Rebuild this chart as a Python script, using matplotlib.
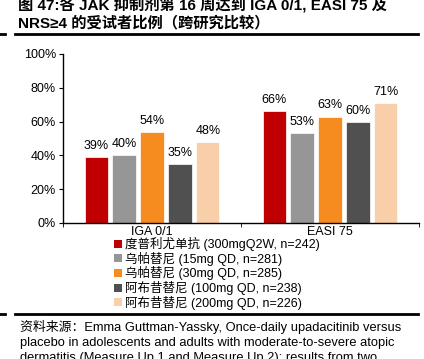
import numpy as np
import matplotlib
matplotlib.use("Agg")
import matplotlib.pyplot as plt
from matplotlib.patches import Patch

plt.rcParams['font.family'] = ['Liberation Sans', 'Noto Sans CJK SC', 'DejaVu Sans']

categories = ["IGA 0/1", "EASI 75"]
series = [
    "度普利尤单抗 (300mgQ2W, n=242)",
    "乌帕替尼 (15mg QD, n=281)",
    "乌帕替尼 (30mg QD, n=285)",
    "阿布昔替尼 (100mg QD, n=238)",
    "阿布昔替尼 (200mg QD, n=226)",
]
values = [
    [39, 66],
    [40, 53],
    [54, 63],
    [35, 60],
    [48, 71],
]
colors = ["#C00000", "#969696", "#F68B1F", "#505050", "#F9CFA9"]

title1 = "图 47:各 JAK 抑制剂第 16 周达到 IGA 0/1, EASI 75 及"
title2 = "NRS≥4 的受试者比例（跨研究比较）"
source_lines = [
    "资料来源：Emma Guttman-Yassky, Once-daily upadacitinib versus",
    "placebo in adolescents and adults with moderate-to-severe atopic",
    "dermatitis (Measure Up 1 and Measure Up 2): results from two",
]

W, H = 424, 359
fig = plt.figure(figsize=(W / 100, H / 100), dpi=100)
ax = fig.add_axes([63 / W, 1 - 223 / H, (419 - 63) / W, (223 - 54) / H])

x = np.arange(len(categories))
step = 0.157
width = 0.13
for i, (name, vals, c) in enumerate(zip(series, values, colors)):
    pos = x + (i - 2) * step
    ax.bar(pos, vals, width=width, color=c, edgecolor="white", linewidth=0.5, label=name)
    for p, v in zip(pos, vals):
        ax.text(p, v + 3, f"{v}%", ha="center", va="bottom", fontsize=9)

ax.set_xlim(-0.5, len(categories) - 0.5)
ax.set_ylim(0, 100)
ax.set_yticks(np.arange(0, 101, 20))
ax.set_yticklabels([f"{t}%" for t in range(0, 101, 20)], fontsize=9)
ax.set_xticks(x)
ax.set_xticklabels(categories, fontsize=9)
ax.set_xticks(np.arange(-0.5, len(categories), 1), minor=True)
ax.tick_params(axis="x", which="major", length=0, pad=2)
ax.tick_params(axis="x", which="minor", length=3, direction="out")
ax.tick_params(axis="y", length=3, direction="out", pad=2)
for s in ["top", "right"]:
    ax.spines[s].set_visible(False)
ax.spines["left"].set_linewidth(1)
ax.spines["bottom"].set_linewidth(1)

handles = [Patch(facecolor=c, edgecolor="none") for c in colors]
fig.legend(handles, series, loc="upper left", bbox_to_anchor=(114 / W, 1 - 237 / H),
           frameon=False, fontsize=9, handlelength=0.6, handleheight=0.6,
           handletextpad=0.3, labelspacing=0.05, borderpad=0, borderaxespad=0)

# title and rules
fig.text(18 / W, 1 - 10 / H, title1, fontsize=11, fontweight="bold", va="baseline")
fig.text(18 / W, 1 - 27 / H, title2, fontsize=11, fontweight="bold", va="baseline")
fig.add_artist(plt.Line2D([15 / W, 418 / W], [1 - 34 / H, 1 - 34 / H], color="black", linewidth=2))
fig.add_artist(plt.Line2D([0, 5 / W], [1 - 34 / H, 1 - 34 / H], color="black", linewidth=2))
fig.add_artist(plt.Line2D([15 / W, 418 / W], [1 - 314 / H, 1 - 314 / H], color="black", linewidth=2))
fig.add_artist(plt.Line2D([0, 5 / W], [1 - 314 / H, 1 - 314 / H], color="black", linewidth=2))
for k, line in enumerate(source_lines):
    fig.text(20 / W, 1 - (331 + 15 * k) / H, line, fontsize=9.3, va="baseline")

fig.savefig("out.png", dpi=100)
